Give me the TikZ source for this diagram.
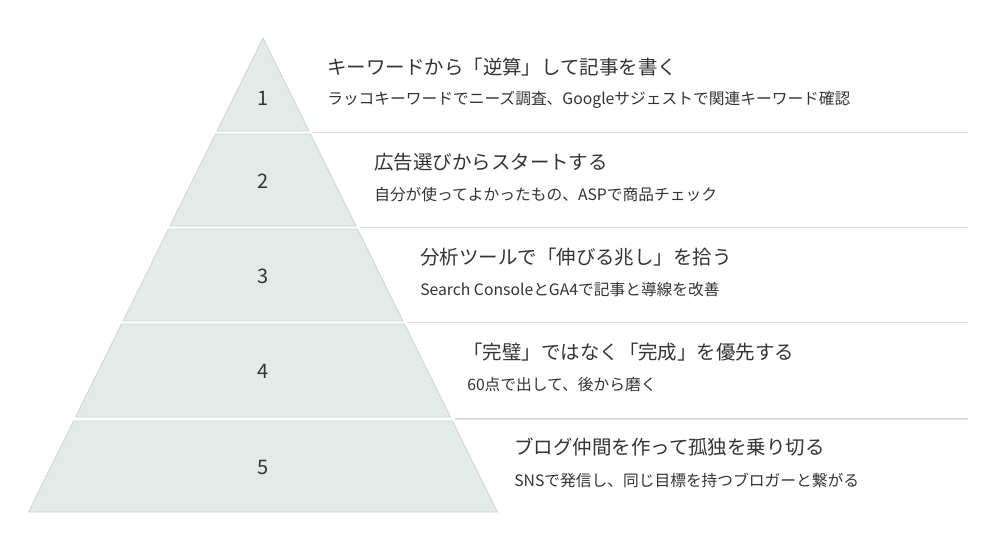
\documentclass[tikz,border=0pt]{standalone}
\usepackage{fontspec}
\setmainfont{Noto Sans CJK JP}
\definecolor{layerfill}{HTML}{E2EBE7}
\definecolor{layeredge}{HTML}{C9D7D1}
\definecolor{rulegray}{HTML}{DDDDDD}
\definecolor{textgray}{HTML}{333333}
\tikzset{
  layer/.style={fill=layerfill, draw=layeredge, line width=0.6pt},
  stepnum/.style={font=\fontsize{15}{15}\selectfont, text=textgray, inner sep=0pt},
  steptitle/.style={anchor=west, font=\fontsize{14.6}{16}\selectfont, text=textgray, inner sep=0pt},
  stepsub/.style={anchor=west, font=\fontsize{11.8}{13}\selectfont, text=textgray, inner sep=0pt},
  divider/.style={draw=rulegray, line width=0.8pt}
}
\begin{document}
\begin{tikzpicture}[x=0.75pt, y=-0.75pt]
    \useasboundingbox (0,0) rectangle (1000,546);

    % Pyramid layers (apex at 263,38)
    \foreach \yt/\yb/\yn/\n in {38/131/98/1, 134/226/181/2, 229/321/276/3, 324/417/371/4, 421/512/467/5} {
        \pgfmathsetmacro\wt{0.4947*(\yt-38)}
        \pgfmathsetmacro\wb{0.4947*(\yb-38)}
        \draw[layer] (263-\wt,\yt) -- (263+\wt,\yt) -- (263+\wb,\yb) -- (263-\wb,\yb) -- cycle;
        \node[stepnum] (num\n) at (263,\yn) {\n};
    }

    % Dividers between rows
    \foreach \y in {132.5, 227.5, 322.5, 419} {
        \pgfmathsetmacro\xs{263+0.4947*(\y-38)+3.5}
        \draw[divider] (\xs,\y) -- (968,\y);
    }

    % Step texts
    \node[steptitle] (title1) at (327,67) {キーワードから「逆算」して記事を書く};
    \node[stepsub] (sub1) at (327,100) {ラッコキーワードでニーズ調査、Googleサジェストで関連キーワード確認};

    \node[steptitle] (title2) at (374,162) {広告選びからスタートする};
    \node[stepsub] (sub2) at (374,195) {自分が使ってよかったもの、ASPで商品チェック};

    \node[steptitle] (title3) at (420,257) {分析ツールで「伸びる兆し」を拾う};
    \node[stepsub] (sub3) at (420,290) {Search ConsoleとGA4で記事と導線を改善};

    \node[steptitle, xshift=-3pt] (title4) at (467,352) {「完璧」ではなく「完成」を優先する};
    \node[stepsub] (sub4) at (467,385) {60点で出して、後から磨く};

    \node[steptitle] (title5) at (514,447) {ブログ仲間を作って孤独を乗り切る};
    \node[stepsub] (sub5) at (514,480) {SNSで発信し、同じ目標を持つブロガーと繋がる};
\end{tikzpicture}
\end{document}
